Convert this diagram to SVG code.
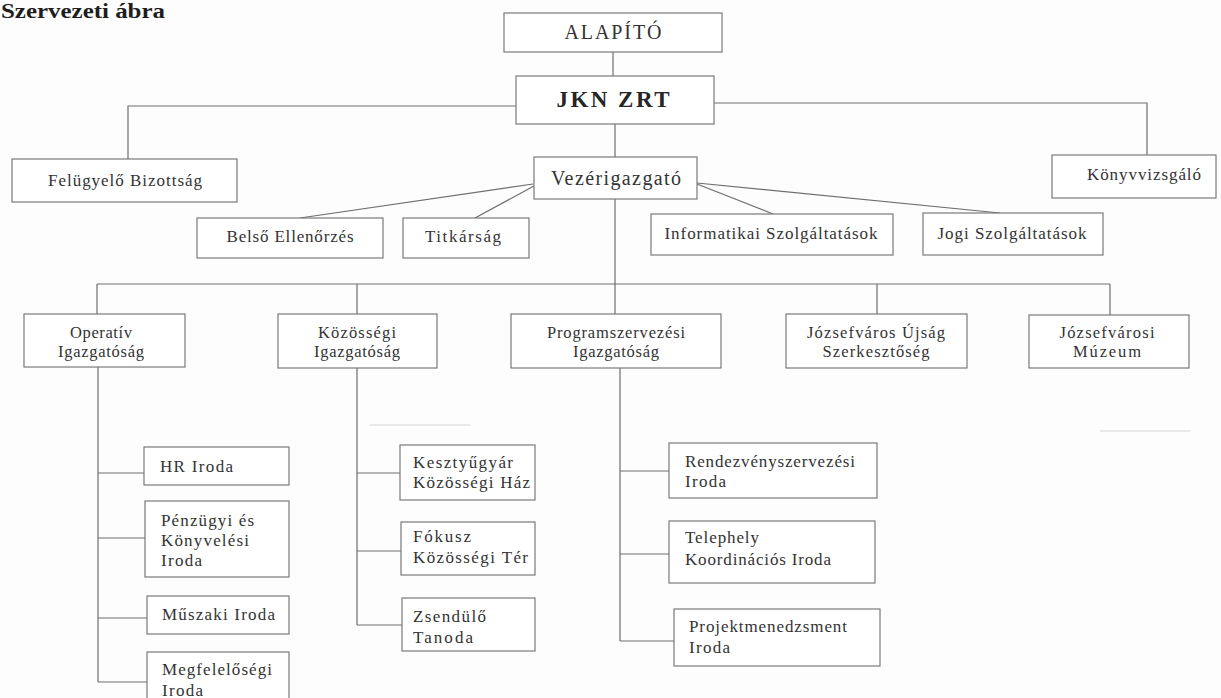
<svg xmlns="http://www.w3.org/2000/svg" width="1221" height="698" viewBox="0 0 1221 698">
<style>
.bg{fill:#fdfdfd}
.box{fill:#ffffff;stroke:#7a7a7a;stroke-width:1.2}
.ln{fill:none;stroke:#6e6e6e;stroke-width:1.2}
.art{fill:none;stroke:#e2e2e2;stroke-width:1.5}
text{font-family:"Liberation Serif","Times New Roman",serif;fill:#333333}
.c{text-anchor:middle}
.t1{font-size:17px}
.t2{font-size:16.5px}
.t3{font-size:17px}
.big{font-size:20px}
.bold{font-weight:bold;font-size:23px;fill:#262626}
.title{font-weight:bold;font-size:20px;fill:#1e1e1e}
</style>
<rect class="bg" x="0" y="0" width="1221" height="698"/>
<text class="title" x="1" y="18" textLength="164" lengthAdjust="spacingAndGlyphs">Szervezeti ábra</text>
<g id="connectors">
<path class="ln" d="M613,52 V76"/>
<path class="ln" d="M516,106 H128 V159"/>
<path class="ln" d="M714,103 H1147 V155"/>
<path class="ln" d="M615,124 V157"/>
<path class="ln" d="M533,184 L300,218"/>
<path class="ln" d="M534,186 L475,218"/>
<path class="ln" d="M697,184 L773,214"/>
<path class="ln" d="M697,183 L1000,213"/>
<path class="ln" d="M615,199 V314"/>
<path class="ln" d="M97,284 H1110"/>
<path class="ln" d="M97,284 V314"/>
<path class="ln" d="M357,284 V314"/>
<path class="ln" d="M877,284 V314"/>
<path class="ln" d="M1110,284 V315"/>
<path class="ln" d="M98,367 V682 M98,473 H144 M98,538 H145 M98,618 H147 M98,682 H147"/>
<path class="ln" d="M357,368 V625 M357,473 H400 M357,551 H401 M357,625 H402"/>
<path class="ln" d="M620,368 V641 M620,471 H669 M620,554 H669 M620,641 H674"/>
</g>
<g id="artifacts">
<path class="art" d="M370,425 H470"/>
<path class="art" d="M1100,431 H1190"/>
</g>
<g id="alapito"><rect class="box" x="504" y="13" width="218" height="39"/><text class="big c" x="613" y="39" textLength="97" lengthAdjust="spacing">ALAPÍTÓ</text></g>
<g id="jkn"><rect class="box" x="516" y="76" width="198" height="48"/><text class="bold c" x="613" y="107" textLength="113" lengthAdjust="spacing">JKN ZRT</text></g>
<g id="felugyelo"><rect class="box" x="12" y="159" width="225" height="43"/><text class="t1 c" x="125" y="186" textLength="154" lengthAdjust="spacing">Felügyelő Bizottság</text></g>
<g id="vezerigazgato"><rect class="box" x="534" y="157" width="163" height="42"/><text class="big c" x="616" y="185" textLength="130" lengthAdjust="spacing">Vezérigazgató</text></g>
<g id="konyvvizsgalo"><rect class="box" x="1052" y="155" width="164" height="43"/><text class="t1 c" x="1144" y="180" textLength="114" lengthAdjust="spacing">Könyvvizsgáló</text></g>
<g id="belso"><rect class="box" x="197" y="218" width="186" height="40"/><text class="t1 c" x="290" y="242" textLength="127" lengthAdjust="spacing">Belső Ellenőrzés</text></g>
<g id="titkarsag"><rect class="box" x="403" y="218" width="126" height="40"/><text class="t1 c" x="463" y="242" textLength="76" lengthAdjust="spacing">Titkárság</text></g>
<g id="informatikai"><rect class="box" x="651" y="214" width="242" height="41"/><text class="t1 c" x="771" y="239" textLength="213" lengthAdjust="spacing">Informatikai Szolgáltatások</text></g>
<g id="jogi"><rect class="box" x="923" y="213" width="180" height="42"/><text class="t1 c" x="1012" y="239" textLength="149" lengthAdjust="spacing">Jogi Szolgáltatások</text></g>
<g id="operativ"><rect class="box" x="24" y="314" width="161" height="53"/><text class="t2 c" x="101" y="338" textLength="62" lengthAdjust="spacing">Operatív</text><text class="t2 c" x="101" y="357" textLength="86" lengthAdjust="spacing">Igazgatóság</text></g>
<g id="kozossegi"><rect class="box" x="278" y="314" width="159" height="54"/><text class="t2 c" x="357" y="338" textLength="78" lengthAdjust="spacing">Közösségi</text><text class="t2 c" x="357" y="357" textLength="86" lengthAdjust="spacing">Igazgatóság</text></g>
<g id="programszervezesi"><rect class="box" x="511" y="314" width="210" height="54"/><text class="t2 c" x="616" y="338" textLength="138" lengthAdjust="spacing">Programszervezési</text><text class="t2 c" x="616" y="357" textLength="86" lengthAdjust="spacing">Igazgatóság</text></g>
<g id="ujsag"><rect class="box" x="786" y="314" width="181" height="54"/><text class="t2 c" x="876" y="338" textLength="138" lengthAdjust="spacing">Józsefváros Újság</text><text class="t2 c" x="876" y="357" textLength="107" lengthAdjust="spacing">Szerkesztőség</text></g>
<g id="muzeum"><rect class="box" x="1029" y="315" width="160" height="53"/><text class="t2 c" x="1107" y="338" textLength="95" lengthAdjust="spacing">Józsefvárosi</text><text class="t2 c" x="1107" y="357" textLength="68" lengthAdjust="spacing">Múzeum</text></g>
<g id="hr"><rect class="box" x="144" y="447" width="145" height="38"/><text class="t3" x="160" y="472" textLength="73" lengthAdjust="spacing">HR Iroda</text></g>
<g id="penzugyi"><rect class="box" x="145" y="501" width="144" height="76"/><text class="t3" x="161" y="526" textLength="93" lengthAdjust="spacing">Pénzügyi és</text><text class="t3" x="161" y="546" textLength="88" lengthAdjust="spacing">Könyvelési</text><text class="t3" x="161" y="566" textLength="41" lengthAdjust="spacing">Iroda</text></g>
<g id="muszaki"><rect class="box" x="147" y="596" width="142" height="38"/><text class="t3" x="162" y="620" textLength="113" lengthAdjust="spacing">Műszaki Iroda</text></g>
<g id="megfelelosegi"><rect class="box" x="147" y="652" width="142" height="60"/><text class="t3" x="162" y="675" textLength="110" lengthAdjust="spacing">Megfelelőségi</text><text class="t3" x="162" y="696" textLength="41" lengthAdjust="spacing">Iroda</text></g>
<g id="kesztyugyar"><rect class="box" x="400" y="445" width="135" height="55"/><text class="t3" x="413" y="468" textLength="100" lengthAdjust="spacing">Kesztyűgyár</text><text class="t3" x="413" y="488" textLength="117" lengthAdjust="spacing">Közösségi Ház</text></g>
<g id="fokusz"><rect class="box" x="401" y="522" width="134" height="53"/><text class="t3" x="413" y="542" textLength="58" lengthAdjust="spacing">Fókusz</text><text class="t3" x="413" y="563" textLength="115" lengthAdjust="spacing">Közösségi Tér</text></g>
<g id="zsendulo"><rect class="box" x="402" y="598" width="133" height="53"/><text class="t3" x="413" y="622" textLength="73" lengthAdjust="spacing">Zsendülő</text><text class="t3" x="413" y="643" textLength="60" lengthAdjust="spacing">Tanoda</text></g>
<g id="rendezveny"><rect class="box" x="669" y="443" width="208" height="55"/><text class="t3" x="685" y="467" textLength="170" lengthAdjust="spacing">Rendezvényszervezési</text><text class="t3" x="685" y="487" textLength="41" lengthAdjust="spacing">Iroda</text></g>
<g id="telephely"><rect class="box" x="669" y="521" width="206" height="62"/><text class="t3" x="685" y="543" textLength="74" lengthAdjust="spacing">Telephely</text><text class="t3" x="685" y="565" textLength="146" lengthAdjust="spacing">Koordinációs Iroda</text></g>
<g id="projekt"><rect class="box" x="674" y="609" width="206" height="57"/><text class="t3" x="689" y="632" textLength="158" lengthAdjust="spacing">Projektmenedzsment</text><text class="t3" x="689" y="653" textLength="41" lengthAdjust="spacing">Iroda</text></g>
</svg>
